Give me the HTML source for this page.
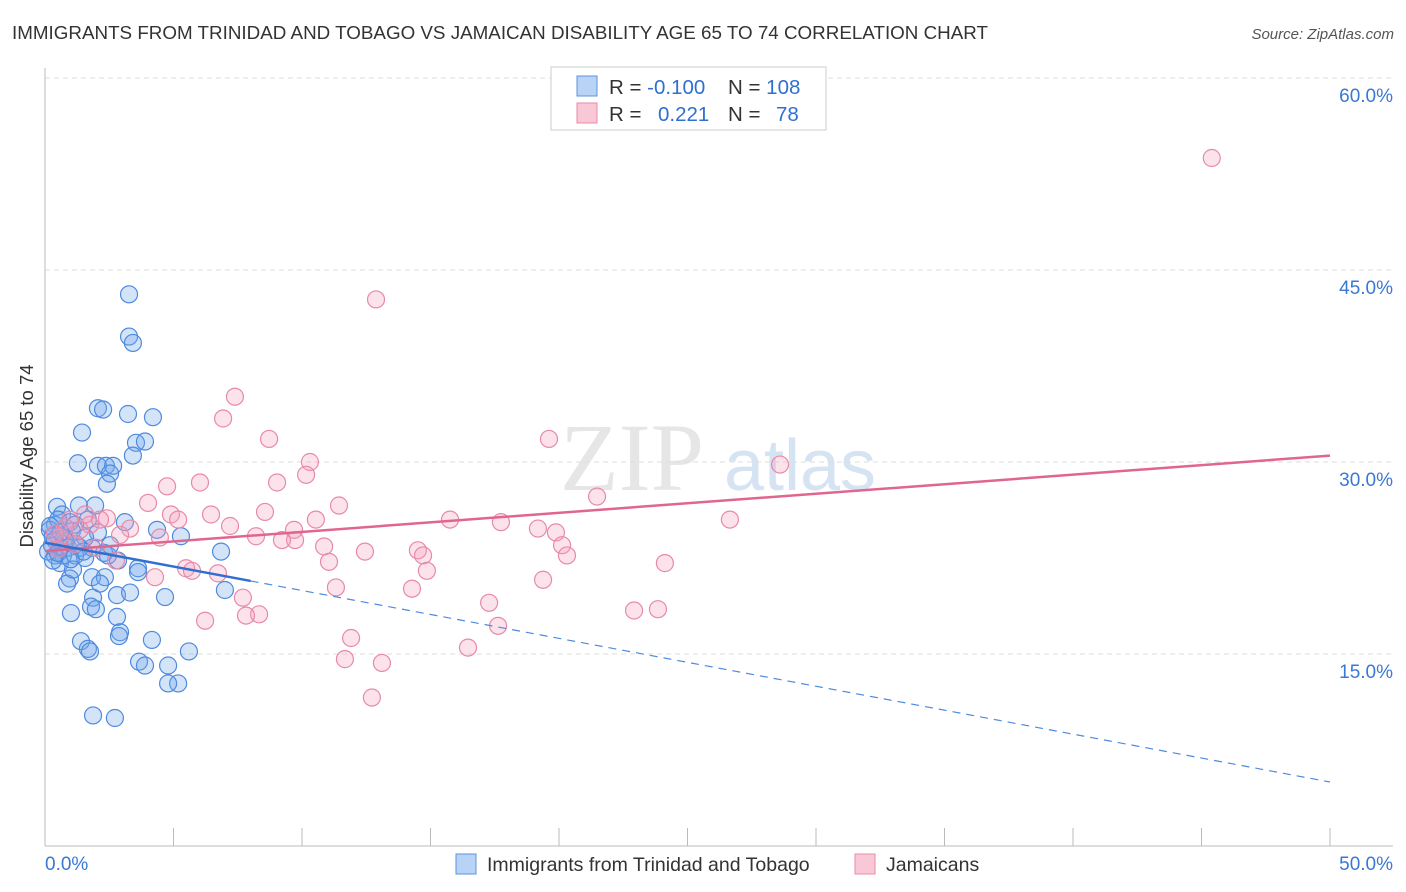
<!DOCTYPE html>
<html><head><meta charset="utf-8"><style>
body{margin:0;background:#fff;font-family:"Liberation Sans",sans-serif;}
svg{display:block}
</style></head><body>
<svg id="c" width="1406" height="892" xmlns="http://www.w3.org/2000/svg">
<text x="12" y="39" font-size="18.8" fill="#333" textLength="976">IMMIGRANTS FROM TRINIDAD AND TOBAGO VS JAMAICAN DISABILITY AGE 65 TO 74 CORRELATION CHART</text>
<text x="1394" y="39" font-size="15" fill="#555" font-style="italic" text-anchor="end">Source: ZipAtlas.com</text>
<text x="632" y="490" font-size="96" fill="#e6e6e6" font-family="Liberation Serif,serif" text-anchor="middle">ZIP</text>
<text x="800" y="490" font-size="72" fill="#d5e3f3" text-anchor="middle">atlas</text>
<text transform="translate(33,456) rotate(-90)" font-size="18.5" fill="#333" text-anchor="middle">Disability Age 65 to 74</text>
<g id="grid"></g><g id="marks"></g><g id="lines"></g>
<g>
<rect x="551" y="67" width="275" height="63" fill="#fff" stroke="#ccc"/>
<rect x="577" y="76" width="20" height="20" fill="#b8d3f5" stroke="#5b93de"/>
<rect x="577" y="103" width="20" height="20" fill="#f9c8d6" stroke="#e98aa9"/>
<text x="609" y="94" font-size="20.5" fill="#333">R = <tspan fill="#2f6fd0">-0.100</tspan></text>
<text x="728" y="94" font-size="20.5" fill="#333">N = <tspan fill="#2f6fd0">108</tspan></text>
<text x="609" y="121" font-size="20.5" fill="#333">R = <tspan x="658" fill="#2f6fd0">0.221</tspan></text>
<text x="728" y="121" font-size="20.5" fill="#333">N = <tspan x="776" fill="#2f6fd0">78</tspan></text>
</g>
<g>
<rect x="456" y="854" width="20" height="20" fill="#b8d3f5" stroke="#5b93de"/>
<text x="487" y="871" font-size="19.5" fill="#333">Immigrants from Trinidad and Tobago</text>
<rect x="855" y="854" width="20" height="20" fill="#f9c8d6" stroke="#e98aa9"/>
<text x="886" y="871" font-size="19.5" fill="#333">Jamaicans</text>
</g>
</svg>
<script>
const blueX=[3.27,3.27,3.42,2.06,2.26,3.23,4.2,1.44,3.54,3.89,3.42,1.28,2.06,2.37,2.65,2.53,2.41,0.47,1.32,1.95,1.67,3.11,4.36,5.29,0.66,0.97,1.17,0.39,0.19,0.27,0.58,0.89,1.36,1.83,0.39,0.7,1.17,1.56,2.84,3.62,6.85,1.83,2.33,0.97,0.86,3.62,4.67,7.0,2.8,3.31,1.87,1.79,1.98,1.01,2.8,2.92,2.88,4.16,1.4,1.67,1.75,5.6,3.66,3.89,4.79,5.18,4.79,1.87,2.72,0.39,0.58,2.45,2.3,2.06,0.74,0.51,1.05,1.56,2.53,0.12,0.31,2.14,1.09,0.3,0.8,1.2,0.5,1.5,0.2,0.6,1.0];
const blueY=[43.1,39.8,39.3,34.2,34.1,33.75,33.5,32.3,31.5,31.6,30.5,29.9,29.7,29.7,29.7,29.1,28.3,26.5,26.6,26.6,25.5,25.3,24.7,24.2,25.9,25.3,25.1,25.1,24.7,23.5,23.3,23.3,23.3,23.3,23.9,22.7,22.7,22.5,22.3,21.7,23.0,21.0,21.0,20.9,20.5,21.4,19.45,20.0,19.6,19.8,19.4,18.7,18.5,18.2,17.9,16.7,16.4,16.1,16.0,15.4,15.2,15.2,14.4,14.1,14.1,12.7,12.7,10.2,10.0,22.7,22.1,22.7,22.9,24.5,24.0,25.5,24.6,24.1,23.5,23.0,22.3,20.5,21.6,24.2,23.8,23.6,22.9,23.0,25.0,24.5,22.4];
const pinkX=[45.4,12.88,7.39,6.93,8.72,19.61,28.6,10.31,10.16,4.75,6.03,9.03,21.48,4.01,11.44,6.46,8.56,4.9,5.18,10.54,15.76,17.74,26.65,2.41,7.2,3.31,9.69,19.18,19.88,2.92,4.47,8.21,9.73,9.22,10.86,12.45,14.51,14.71,20.12,20.31,1.98,2.76,11.05,5.49,5.72,6.73,14.86,24.12,4.28,19.38,11.32,14.28,7.7,17.28,22.92,23.85,6.23,8.33,7.82,17.63,11.91,16.46,11.67,13.11,12.72,0.97,1.36,0.58,1.75,1.17,0.78,0.39,1.56,2.14,0.5];
const pinkY=[53.75,42.7,35.1,33.4,31.8,31.8,29.8,30.0,29.0,28.1,28.4,28.4,27.3,26.8,26.6,25.9,26.1,25.9,25.5,25.5,25.5,25.3,25.5,25.6,25.0,24.8,24.7,24.8,24.5,24.3,24.1,24.2,23.9,23.9,23.4,23.0,23.1,22.7,23.5,22.7,23.3,22.3,22.2,21.7,21.5,21.3,21.5,22.1,21.0,20.8,20.2,20.1,19.4,19.0,18.4,18.5,17.6,18.1,18.0,17.2,16.25,15.5,14.6,14.3,11.6,25.5,24.7,24.1,25.1,23.6,24.9,24.4,25.9,25.5,23.2];
const yTicks=[15,30,45,60];
const xTicks=[0,5,10,15,20,25,30,35,40,45,50];
const blueFit=[23.7,5.0];
const pinkFit=[23.05,30.5];
const NS="http://www.w3.org/2000/svg";
const sx=v=>45+v*25.7, sy=v=>846-v*12.8;
function mk(tag,attrs,parent){const e=document.createElementNS(NS,tag);for(const k in attrs)e.setAttribute(k,attrs[k]);parent.appendChild(e);return e;}
const grid=document.getElementById('grid'),marks=document.getElementById('marks'),lines=document.getElementById('lines');
yTicks.forEach(t=>{
 const l=mk('line',{x1:45,x2:1393,y1:sy(t),y2:sy(t),stroke:'#ddd','stroke-dasharray':'5,4'},grid);
 
 
 const tx=mk('text',{x:1393,y:sy(t)+24,'font-size':19,fill:'#3a78d4','text-anchor':'end'},grid);
 tx.textContent=t.toFixed(1)+'%';
 
 
});
mk('line',{x1:45,x2:45,y1:68,y2:846,stroke:'#bbb'},grid);
mk('line',{x1:45,x2:1393,y1:846,y2:846,stroke:'#bbb'},grid);
xTicks.forEach(t=>{
 const l=mk('line',{x1:sx(t),x2:sx(t),y1:828,y2:846,stroke:'#bbb'},grid);
 
 
});
[[0,'start'],[50,'end']].forEach(([t,a])=>{
 const tx=mk('text',{x:t==0?45:1393,y:870,'font-size':19,fill:'#3a78d4','text-anchor':a},grid);
 tx.textContent=t.toFixed(1)+'%';
 
 
});
blueX.forEach((x,i)=>{
 const c=mk('circle',{cx:sx(x),cy:sy(blueY[i]),r:8.5,fill:'rgba(110,165,235,0.3)',stroke:'#4f8ade','stroke-width':1.2},marks);
 
 
});
pinkX.forEach((x,i)=>{
 const c=mk('circle',{cx:sx(x),cy:sy(pinkY[i]),r:8.5,fill:'rgba(245,160,190,0.3)',stroke:'#e78aa8','stroke-width':1.2},marks);
 
 
});
const bAt=x=>blueFit[0]+(blueFit[1]-blueFit[0])*x/50;
const pAt=x=>pinkFit[0]+(pinkFit[1]-pinkFit[0])*x/50;
const pl=mk('line',{x1:sx(0),y1:sy(pAt(0)),x2:sx(50),y2:sy(pAt(50)),stroke:'#e0668f','stroke-width':2.5},lines);


const bl=mk('line',{x1:sx(0),y1:sy(bAt(0)),x2:sx(8),y2:sy(bAt(8)),stroke:'#2f6fd0','stroke-width':2.5},lines);


const bd=mk('line',{x1:sx(8),y1:sy(bAt(8)),x2:sx(50),y2:sy(bAt(50)),stroke:'#4f8ade','stroke-width':1.2,'stroke-dasharray':'8,6'},lines);


</script>
</body></html>
